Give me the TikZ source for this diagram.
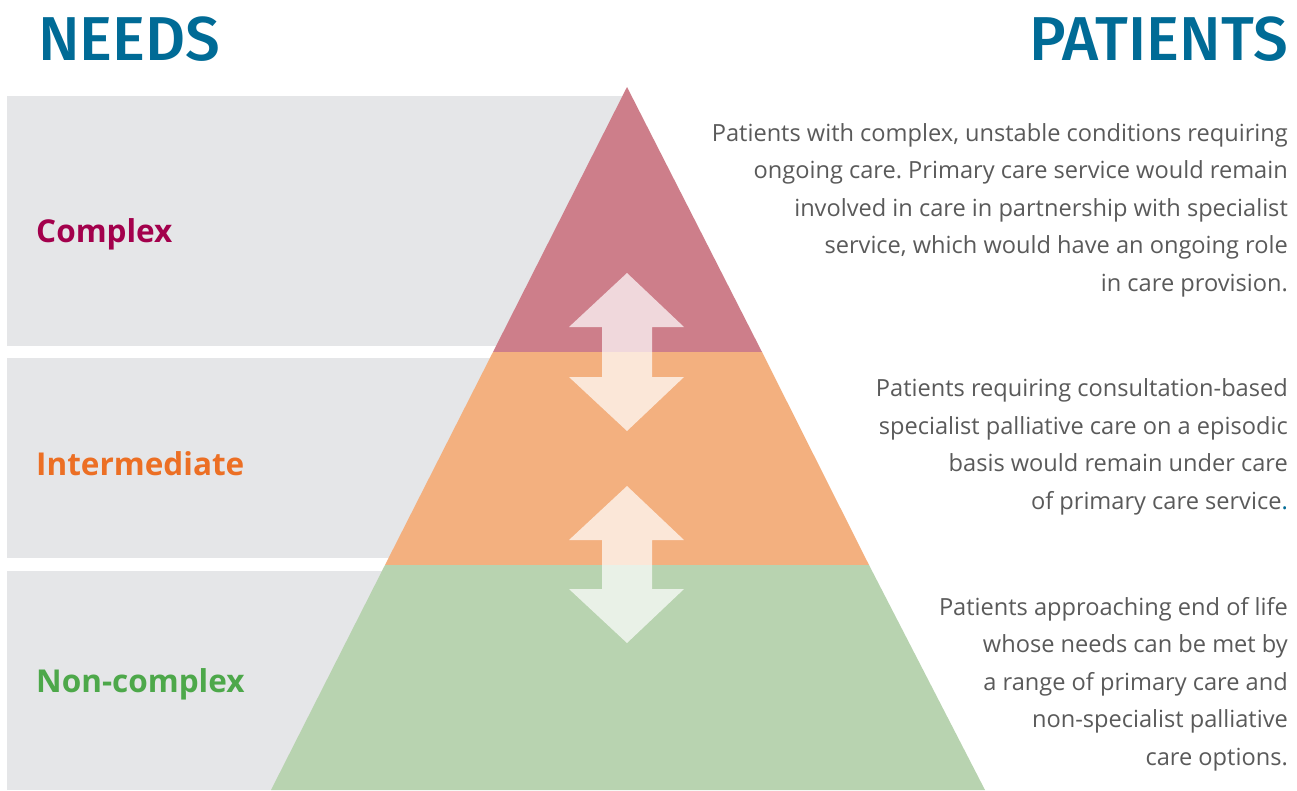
\documentclass[tikz,border=0pt]{standalone}
\usepackage{fontspec}
\setmainfont{Open Sans}
\newfontfamily\titlefont{Fira Sans Medium}
\frenchspacing
\definecolor{titleblue}{HTML}{006B96}
\definecolor{boxgray}{HTML}{E5E6E8}
\definecolor{redband}{HTML}{CD7E8A}
\definecolor{orangeband}{HTML}{F3B07F}
\definecolor{greenband}{HTML}{B8D3B0}
\definecolor{complexcol}{HTML}{A3004C}
\definecolor{intercol}{HTML}{EC6F24}
\definecolor{noncol}{HTML}{4DA84A}
\definecolor{bodygray}{HTML}{5A5A5A}
\tikzset{
  title/.style={inner sep=0pt, text=titleblue, font=\titlefont\fontsize{62}{62}\selectfont},
  level/.style={inner sep=0pt, anchor=west, font=\bfseries\fontsize{31.5}{31.5}\selectfont},
  desc/.style={inner sep=0pt, anchor=east, align=right, text=bodygray, font=\frenchspacing\fontsize{23.6}{37.5}\selectfont},
  graybox/.style={fill=boxgray, draw=none},
  twoway/.style={fill=white, fill opacity=0.7, draw=none}
}
\begin{document}
\begin{tikzpicture}[x=1pt,y=-1pt]
\useasboundingbox (0,0) rectangle (1297,790);
\fill[white] (0,0) rectangle (1297,790);
% gray boxes
\fill[graybox] (7,96) rectangle (625,346);
\fill[graybox] (7,358) rectangle (495,558);
\fill[graybox] (7,571) rectangle (385,790);
% pyramid bands
\coordinate (apex) at (627,87);
\fill[redband] (apex) -- (762,352) -- (493,352) -- cycle;
\fill[orangeband] (493,352) -- (762,352) -- (869,565) -- (385,565) -- cycle;
\fill[greenband] (385,565) -- (869,565) -- (985,790) -- (271,790) -- cycle;
% double arrows
\fill[twoway] (627,273) -- (684,327) -- (652,327) -- (652,377) -- (684,377) -- (627,431)
  -- (569,377) -- (602,377) -- (602,327) -- (569,327) -- cycle;
\fill[twoway] (627,486) -- (684,540) -- (652,540) -- (652,589) -- (684,589) -- (627,643)
  -- (569,589) -- (602,589) -- (602,540) -- (569,540) -- cycle;
% titles
\node[title, anchor=base west] (needs) at (38,60) {NEEDS};
\node[title, anchor=base east] (patients) at (1288,60) {PATIENTS};
% level labels
\node[level, text=complexcol] (complex) at (36,234) {Complex};
\node[level, text=intercol] (inter) at (36,464) {Intermediate};
\node[level, text=noncol] (noncomplex) at (36,684) {Non-complex};
% descriptions
\node[desc] (d1) at (1288,210) {Patients with complex, unstable conditions requiring\\
ongoing care. Primary care service would remain\\
involved in care in partnership with specialist\\
service, which would have an ongoing role\\
in care provision.};
\node[desc] (d2) at (1288,447) {Patients requiring consultation-based\\
specialist palliative care on a episodic\\
basis would remain under care\\
of primary care service{\color{titleblue}.}};
\node[desc] (d3) at (1288,684) {Patients approaching end of life\\
whose needs can be met by\\
a range of primary care and\\
non-specialist palliative\\
care options.};
\end{tikzpicture}
\end{document}
